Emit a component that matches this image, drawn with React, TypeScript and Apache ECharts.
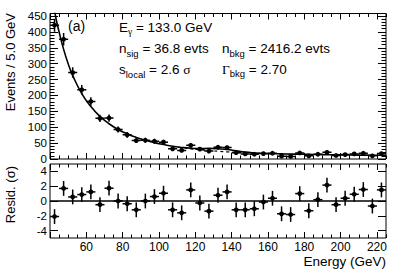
import React, { useEffect, useRef } from 'react';
import * as echarts from 'echarts';

// Bin centres (GeV), 5 GeV bins
const energies = [42.5, 47.5, 52.5, 57.5, 62.5, 67.5, 72.5, 77.5, 82.5, 87.5, 92.5, 97.5, 102.5, 107.5, 112.5, 117.5, 122.5, 127.5, 132.5, 137.5, 142.5, 147.5, 152.5, 157.5, 162.5, 167.5, 172.5, 177.5, 182.5, 187.5, 192.5, 197.5, 202.5, 207.5, 212.5, 217.5, 222.5];
// Events per bin
const counts = [421, 377, 272, 218, 181, 128, 129, 93, 76, 58, 59, 56, 53, 32, 27, 43, 31, 25, 37, 36, 20, 16, 15, 17, 18, 9, 8, 19, 10, 15, 21, 11, 14, 16, 18, 10, 17];
// Residuals (sigma)
const residuals = [-2.1, 1.7, 0.55, 0.87, 1.23, -0.5, 1.73, 0.0, -0.37, -1.19, 0.0, 0.6, 1.05, -1.19, -1.6, 1.5, -0.27, -1.37, 0.78, 1.23, -1.19, -1.19, -1.05, -0.14, 0.37, -1.73, -1.83, 1.0, -1.32, 0.18, 2.15, -0.5, 0.37, 0.91, 1.55, -0.68, 1.5];
const residualErrors = [1, 1, 1, 1, 1, 1, 1, 1, 1, 1, 1, 1, 1, 1, 1, 1, 1, 1, 1, 1, 1, 1, 1, 1, 1, 1, 1, 1, 1, 1, 1, 1, 1, 1, 1, 1, 1];
// Fit curve (signal + background)
const fitEnergies = [40, 42.5, 45, 47.5, 50, 52.5, 57.5, 62.5, 67.5, 72.5, 77.5, 82.5, 87.5, 92.5, 97.5, 102.5, 107.5, 112.5, 117.5, 122.5, 127.5, 132.5, 137.5, 142.5, 147.5, 152.5, 157.5, 162.5, 167.5, 172.5, 177.5, 182.5, 187.5, 192.5, 197.5, 202.5, 207.5, 212.5, 217.5, 222.5, 225];
const fitTotal = [560, 466, 400, 345, 300, 263, 206, 165, 134, 111, 93, 79, 68, 59, 51.5, 45.5, 40, 36.4, 33.9, 33.1, 33.3, 32.5, 29.7, 25.6, 21.7, 19.2, 17.5, 16.7, 16, 15.5, 15, 14.5, 14, 13.6, 13.2, 12.8, 12.5, 12.2, 12, 11.8, 11.7];
// Background-only curve around the signal region (dashed)
const bgEnergies = [107.5, 112.5, 117.5, 122.5, 127.5, 132.5, 137.5, 142.5, 147.5, 152.5, 157.5];
const bgOnly = [40, 35.8, 32, 29, 26.5, 24.4, 22.5, 20.9, 19.5, 18.4, 17.5];

const xMajorTicks = [40, 60, 80, 100, 120, 140, 160, 180, 200, 220];
const xMinorTicks = [45, 50, 55, 65, 70, 75, 85, 90, 95, 105, 110, 115, 125, 130, 135, 145, 150, 155, 165, 170, 175, 185, 190, 195, 205, 210, 215, 225];
const xTickLabels = [60, 80, 100, 120, 140, 160, 180, 200, 220];
const yMainMajor = [0, 50, 100, 150, 200, 250, 300, 350, 400, 450];
const yMainMinor = [10, 20, 30, 40, 60, 70, 80, 90, 110, 120, 130, 140, 160, 170, 180, 190, 210, 220, 230, 240, 260, 270, 280, 290, 310, 320, 330, 340, 360, 370, 380, 390, 410, 420, 430, 440];
const yResMajor = [-4, -2, 0, 2, 4];

const FONT = '"Liberation Sans", Arial, Helvetica, sans-serif';
const SERIF = '"Liberation Serif", "DejaVu Serif", serif';
const HALF_BIN = 2.5;

let measureCtx: CanvasRenderingContext2D | null = null;
function measure(text: string, size: number, fam: string): number {
  if (!measureCtx) measureCtx = document.createElement('canvas').getContext('2d');
  measureCtx!.font = `${size}px ${fam}`;
  return measureCtx!.measureText(text).width;
}

type Part = { t: string; sub?: boolean; serif?: boolean };
function textLine(x: number, y: number, parts: Part[]) {
  const els: any[] = [];
  let cx = x;
  for (const p of parts) {
    const size = p.sub ? 9.5 : 13.5;
    const fam = p.serif ? SERIF : FONT;
    els.push({
      type: 'text', x: cx, y: y + (p.sub ? 4.5 : 0),
      style: { text: p.t, fontSize: size, fontFamily: fam, fill: '#000', align: 'left', verticalAlign: 'middle' },
    });
    cx += measure(p.t, size, fam);
  }
  return els;
}

function xAx(grid: number, pos: string, ticks: number[], len: number, labels?: number[]) {
  return {
    type: 'value', gridIndex: grid, position: pos, min: 40, max: 225, interval: 5,
    axisLine: { show: false, onZero: false },
    axisTick: { show: true, inside: true, length: len, customValues: ticks, lineStyle: { color: '#000', width: 1 } },
    axisLabel: labels
      ? { show: true, customValues: labels, margin: 3, fontSize: 12, color: '#000', fontFamily: FONT }
      : { show: false },
    splitLine: { show: false },
  };
}

function yAx(grid: number, pos: string, min: number, max: number, ticks: number[], len: number, labels?: number[]) {
  return {
    type: 'value', gridIndex: grid, position: pos, min, max,
    axisLine: { show: false, onZero: false },
    axisTick: { show: true, inside: true, length: len, customValues: ticks, lineStyle: { color: '#000', width: 1 } },
    axisLabel: labels
      ? { show: true, customValues: labels, margin: 3, fontSize: 11.5, lineHeight: 11, color: '#000', fontFamily: FONT }
      : { show: false },
    splitLine: { show: false },
  };
}

function errRender(params: any, api: any) {
  const x = api.value(0);
  const y = api.value(1);
  const e = api.value(2);
  const c = api.coord([x, y]);
  const l = api.coord([x - HALF_BIN, y]);
  const r = api.coord([x + HALF_BIN, y]);
  const t = api.coord([x, y + e]);
  const b = api.coord([x, y - e]);
  const st = { stroke: '#000', lineWidth: 1.5 };
  return {
    type: 'group',
    children: [
      { type: 'line', shape: { x1: l[0], y1: l[1], x2: r[0], y2: r[1] }, style: st },
      { type: 'line', shape: { x1: t[0], y1: t[1], x2: b[0], y2: b[1] }, style: st },
      { type: 'circle', shape: { cx: c[0], cy: c[1], r: 2.4 }, style: { fill: '#000' } },
    ],
  };
}

export default function App() {
  const ref = useRef<HTMLDivElement>(null);
  useEffect(() => {
    document.body.style.margin = '0';
    if (!ref.current) return;
    const chart = echarts.init(ref.current, undefined, { renderer: 'svg' });

    const mainData = energies.map((e, i) => [e, counts[i], Math.sqrt(counts[i])]);
    const resData = energies.map((e, i) => [e, residuals[i], residualErrors[i]]);
    const fitData = fitEnergies.map((e, i) => [e, fitTotal[i]]);
    const bgData = bgEnergies.map((e, i) => [e, bgOnly[i]]);

    const graphics: any[] = [
      { type: 'text', x: 10, y: 13, rotation: Math.PI / 2,
        style: { text: 'Events / 5.0 GeV', fontSize: 13, fontFamily: FONT, fill: '#000', align: 'right', verticalAlign: 'middle' } },
      { type: 'text', x: 10, y: 166, rotation: Math.PI / 2,
        style: { text: 'Resid. (σ)', fontSize: 13, fontFamily: FONT, fill: '#000', align: 'right', verticalAlign: 'middle' } },
      { type: 'text', x: 386, y: 261,
        style: { text: 'Energy (GeV)', fontSize: 13.5, fontFamily: FONT, fill: '#000', align: 'right', verticalAlign: 'middle' } },
      { type: 'text', x: 68, y: 26,
        style: { text: '(a)', fontSize: 14, fontFamily: FONT, fill: '#000', align: 'left', verticalAlign: 'middle' } },
      ...textLine(119, 27.5, [{ t: 'E' }, { t: 'γ', sub: true, serif: true }, { t: ' = 133.0 GeV' }]),
      ...textLine(119, 48.5, [{ t: 'n' }, { t: 'sig', sub: true }, { t: ' = 36.8 evts' }]),
      ...textLine(222, 48.5, [{ t: 'n' }, { t: 'bkg', sub: true }, { t: ' = 2416.2 evts' }]),
      ...textLine(119, 69.5, [{ t: 's' }, { t: 'local', sub: true }, { t: ' = 2.6 ' }, { t: 'σ', serif: true }]),
      ...textLine(222, 69, [{ t: 'Γ', serif: true }, { t: 'bkg', sub: true }, { t: ' = 2.70' }]),
    ];

    chart.setOption({
      animation: false,
      backgroundColor: '#fff',
      grid: [
        { left: 50, top: 13.5, width: 336, height: 145.5, show: true, borderColor: '#000', borderWidth: 1, backgroundColor: 'transparent' },
        { left: 50, top: 164, width: 336, height: 74, show: true, borderColor: '#000', borderWidth: 1, backgroundColor: 'transparent' },
      ],
      xAxis: [
        xAx(0, 'bottom', xMajorTicks, 6),
        xAx(0, 'bottom', xMinorTicks, 3.5),
        xAx(0, 'top', xMajorTicks, 6),
        xAx(0, 'top', xMinorTicks, 3.5),
        xAx(1, 'bottom', xMajorTicks, 6, xTickLabels),
        xAx(1, 'bottom', xMinorTicks, 3.5),
        xAx(1, 'top', xMajorTicks, 6),
        xAx(1, 'top', xMinorTicks, 3.5),
      ],
      yAxis: [
        yAx(0, 'left', 0, 458, yMainMajor, 8, yMainMajor),
        yAx(0, 'left', 0, 458, yMainMinor, 4.5),
        yAx(0, 'right', 0, 458, yMainMajor, 8),
        yAx(0, 'right', 0, 458, yMainMinor, 4.5),
        yAx(1, 'left', -5, 5, yResMajor, 8, yResMajor),
        yAx(1, 'right', -5, 5, yResMajor, 8),
      ],
      series: [
        {
          type: 'line', xAxisIndex: 0, yAxisIndex: 0, data: bgData, smooth: true, symbol: 'none', clip: true,
          lineStyle: { color: '#000', width: 1.2, type: [3, 3] }, z: 2,
        },
        {
          type: 'line', xAxisIndex: 0, yAxisIndex: 0, data: fitData, smooth: true, symbol: 'none', clip: true,
          lineStyle: { color: '#000', width: 1.6 }, z: 3,
        },
        {
          type: 'custom', xAxisIndex: 0, yAxisIndex: 0, data: mainData, renderItem: errRender, clip: true,
          encode: { x: 0, y: 1 }, z: 4,
        },
        {
          type: 'custom', xAxisIndex: 4, yAxisIndex: 4, data: resData, renderItem: errRender, clip: true,
          encode: { x: 0, y: 1 }, z: 4,
          markLine: {
            silent: true, symbol: ['none', 'none'], label: { show: false },
            lineStyle: { color: '#000', width: 1.5, type: 'solid' },
            data: [{ yAxis: 0 }],
          },
        },
      ],
      graphic: graphics,
    });
    return () => chart.dispose();
  }, []);
  return <div ref={ref} style={{ width: 399, height: 273 }} />;
}
